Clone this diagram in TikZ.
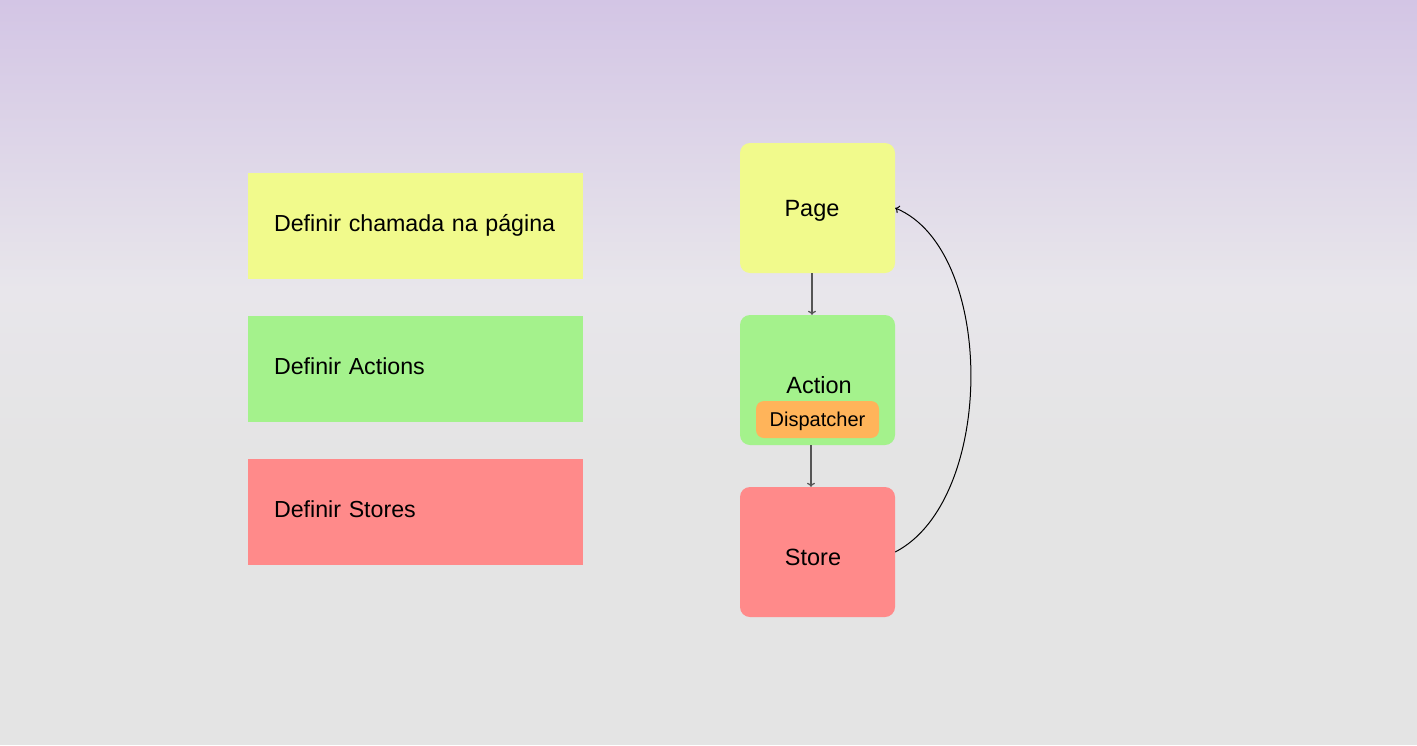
\documentclass[tikz,border=0pt]{standalone}
\usepackage{fontspec}
\setmainfont{Liberation Sans}
\usetikzlibrary{arrows.meta}
\definecolor{bgtop}{HTML}{D3C5E5}
\definecolor{bgmid}{HTML}{E8E6EB}
\definecolor{bgbot}{HTML}{E4E4E4}
\definecolor{pageyellow}{HTML}{F1FA8C}
\definecolor{actiongreen}{HTML}{A4F28C}
\definecolor{storered}{HTML}{FF8A8A}
\definecolor{dispatchorange}{HTML}{FFB45A}
\definecolor{flowgray}{HTML}{555555}
\tikzset {
    step box/.style = {
        rectangle, minimum width = 335pt, minimum height = 106pt,
        inner xsep = 26pt, text width = 283pt, align = left,
        text height = 17pt, text depth = 6.4pt,
        font = \fontsize{23.2}{28}\selectfont
    },
    flow box/.style = {
        rectangle, rounded corners = 10pt,
        minimum width = 155pt, minimum height = 130pt,
        text height = 17pt, text depth = 0.4pt,
        font = \fontsize{23.5}{28}\selectfont
    },
    dispatch box/.style = {
        rectangle, rounded corners = 8pt, fill = dispatchorange,
        minimum width = 123pt, minimum height = 37pt,
        text height = 15pt, text depth = 2pt,
        font = \fontsize{20}{24}\selectfont
    },
    flow arrow/.style = {
        draw = flowgray, line width = 1.2pt,
        arrows = {-{To[length = 4pt, width = 8pt]}}
    },
    back arrow/.style = {
        draw = black, line width = 1pt,
        arrows = {-{To[length = 4pt, width = 8pt]}}
    }
}
\begin{document}
\begin{tikzpicture}[x = 1pt, y = -1pt]
    \useasboundingbox (0, 0) rectangle (1417, 745);
    % background
    \fill [bgbot] (0, 0) rectangle (1417, 745);
    \shade [top color = bgtop, bottom color = bgmid] (0, 0) rectangle (1417, 290);
    \shade [top color = bgmid, bottom color = bgbot] (0, 290) rectangle (1417, 460);
    % steps
    \node (defpage) [step box, fill = pageyellow] at (415.5, 226) {Definir chamada na página};
    \node (defaction) [step box, fill = actiongreen] at (415.5, 369) {Definir Actions};
    \node (defstore) [step box, fill = storered] at (415.5, 512) {Definir Stores};
    % flow
    \node (page) [flow box, fill = pageyellow] at (817.5, 208) {\hspace*{-11pt}Page};
    \node (action) [flow box, fill = actiongreen] at (817.5, 380) {};
    \node (actiontext) [font = \fontsize{23.5}{28}\selectfont] at (819, 385) {Action};
    \node (dispatcher) [dispatch box] at (817.5, 419.5) {Dispatcher};
    \node (store) [flow box, fill = storered, text height = 27pt] at (817.5, 552) {\hspace*{-9pt}Store};
    \draw [flow arrow] (page.south -| 812, 0) -- (action.north -| 812, 0);
    \draw [flow arrow] (action.south -| 811, 0) -- (store.north -| 811, 0);
    \draw [back arrow] (store.east) .. controls (996, 500) and (996, 250) .. (page.east);
\end{tikzpicture}
\end{document}
